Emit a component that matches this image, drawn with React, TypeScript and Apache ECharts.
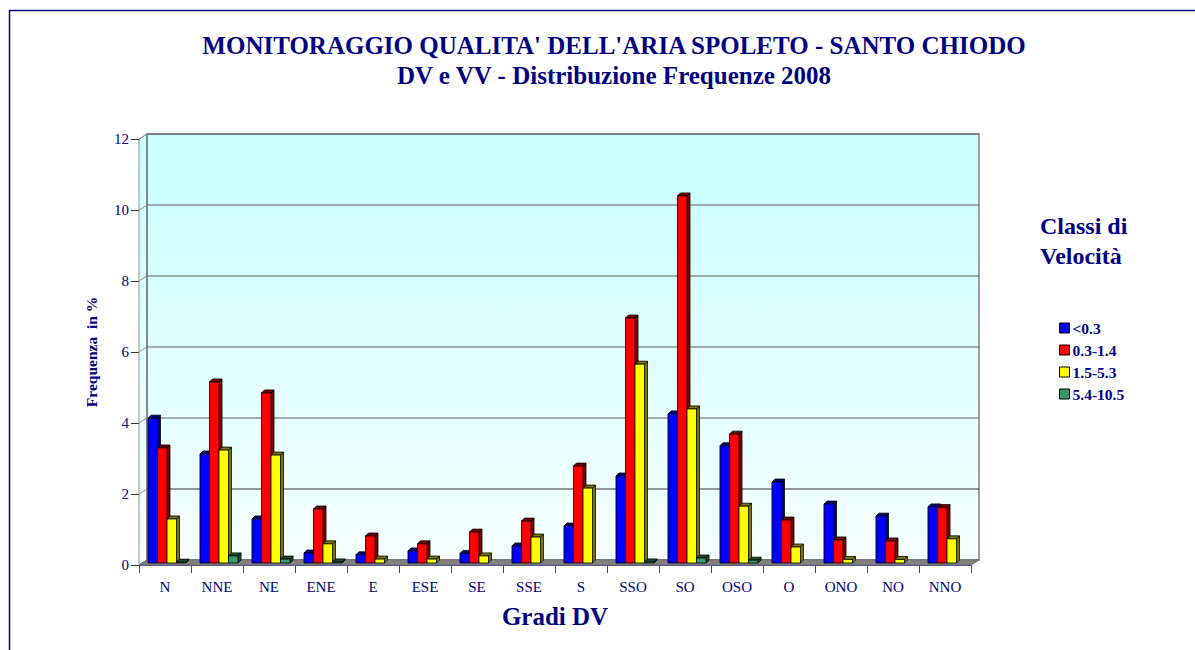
import React, { useEffect, useRef } from "react";
import * as echarts from "echarts";

const CATEGORIES = ["N", "NNE", "NE", "ENE", "E", "ESE", "SE", "SSE", "S", "SSO", "SO", "OSO", "O", "ONO", "NO", "NNO"];
const SERIES_NAMES = ["<0.3", "0.3-1.4", "1.5-5.3", "5.4-10.5"];
const V_LT03 = [4.08, 3.07, 1.24, 0.28, 0.23, 0.34, 0.27, 0.48, 1.04, 2.45, 4.2, 3.3, 2.28, 1.66, 1.32, 1.58];
const V_03_14 = [3.24, 5.1, 4.79, 1.52, 0.76, 0.54, 0.87, 1.18, 2.73, 6.9, 10.34, 3.63, 1.21, 0.65, 0.62, 1.56];
const V_15_53 = [1.24, 3.18, 3.04, 0.54, 0.11, 0.11, 0.2, 0.73, 2.11, 5.6, 4.34, 1.6, 0.45, 0.1, 0.1, 0.68];
const V_54_105 = [0.02, 0.2, 0.11, 0.03, 0, 0, 0, 0, 0, 0.03, 0.14, 0.08, 0, 0, 0, 0];
const Y_TICKS = [0, 2, 4, 6, 8, 10, 12];

const TITLE_1 = "MONITORAGGIO QUALITA' DELL'ARIA SPOLETO - SANTO CHIODO";
const TITLE_2 = "DV e VV - Distribuzione Frequenze 2008";

const COLORS = ["#0000FF", "#FF0000", "#FFFF00", "#339966"];
const DARKS = ["#00007A", "#7A0000", "#7A7A00", "#1A4D33"];
const NAVY = "#000080";
const FONT = "'Liberation Serif', 'Times New Roman', serif";

const WALL_DX = 8;
const WALL_DY = -5;

export default function App() {
  const ref = useRef<HTMLDivElement>(null);

  useEffect(() => {
    if (!ref.current) return;
    const chart = echarts.init(ref.current, undefined, { renderer: "svg" });
    const allValues = [V_LT03, V_03_14, V_15_53, V_54_105];

    const wallFill = () =>
      new echarts.graphic.LinearGradient(0, 0, 0, 1, [
        { offset: 0, color: "#C8FFFF" },
        { offset: 1, color: "#F6FFFF" },
      ]);

    const barRender = (sIdx: number) => (params: any, api: any) => {
      const cat = api.value(0);
      const v = api.value(1);
      if (!(v > 0)) return null;
      const p0 = api.coord([cat, 0]);
      const p1 = api.coord([cat, v]);
      const band = api.size([1, 0])[0];
      const w = band * 0.183;
      const x = p0[0] - 2 * w + 2 + sIdx * w;
      const yb = p0[1] - 2;
      const yt = Math.min(p1[1] - 2, yb - 0.8);
      const d = 3;
      const color = COLORS[sIdx];
      const dark = DARKS[sIdx];
      return {
        type: "group",
        children: [
          {
            type: "polygon",
            shape: { points: [[x + w, yt], [x + w + d, yt - d], [x + w + d, yb - d], [x + w, yb]] },
            style: { fill: dark, stroke: "#000", lineWidth: 0.8 },
          },
          {
            type: "polygon",
            shape: { points: [[x, yt], [x + d, yt - d], [x + w + d, yt - d], [x + w, yt]] },
            style: { fill: dark, stroke: "#000", lineWidth: 0.8 },
          },
          {
            type: "rect",
            shape: { x, y: yt, width: w, height: yb - yt },
            style: { fill: color, stroke: "#000", lineWidth: 0.8 },
          },
        ],
      };
    };

    const wallRender = (params: any, api: any) => {
      const cs = params.coordSys;
      const left = cs.x;
      const right = cs.x + cs.width;
      const bottom = api.coord([0, 0])[1];
      const top = api.coord([0, Y_TICKS[Y_TICKS.length - 1]])[1];
      const children: any[] = [];
      children.push({
        type: "polygon",
        shape: {
          points: [
            [left, top],
            [left + WALL_DX, top + WALL_DY],
            [left + WALL_DX, bottom + WALL_DY],
            [left, bottom],
          ],
        },
        style: { fill: wallFill(), stroke: "#909090", lineWidth: 1 },
      });
      children.push({
        type: "rect",
        shape: { x: left + WALL_DX, y: top + WALL_DY, width: right - left, height: bottom - top },
        style: { fill: wallFill(), stroke: "#808080", lineWidth: 1.5 },
      });
      Y_TICKS.forEach((t) => {
        const y = api.coord([0, t])[1];
        children.push({
          type: "line",
          shape: { x1: left + WALL_DX, y1: y + WALL_DY, x2: right + WALL_DX, y2: y + WALL_DY },
          style: { stroke: t === 2 ? "#333" : "#606060", lineWidth: 1.2 },
        });
        children.push({
          type: "line",
          shape: { x1: left, y1: y, x2: left + WALL_DX, y2: y + WALL_DY },
          style: { stroke: "#909090", lineWidth: 1 },
        });
      });
      children.push({
        type: "line",
        shape: { x1: left + WALL_DX, y1: top + WALL_DY, x2: left + WALL_DX, y2: bottom + WALL_DY },
        style: { stroke: "#808080", lineWidth: 1.5 },
      });
      children.push({
        type: "polygon",
        shape: {
          points: [
            [left, bottom],
            [left + WALL_DX, bottom + WALL_DY],
            [right + WALL_DX, bottom + WALL_DY],
            [right, bottom],
          ],
        },
        style: { fill: "#808080", stroke: "#707070", lineWidth: 1 },
      });
      return { type: "group", children };
    };

    const option: any = {
      animation: false,
      backgroundColor: "#FFFFFF",
      textStyle: { fontFamily: FONT },
      graphic: [
        {
          type: "rect",
          shape: { x: 9.5, y: 10.5, width: 1300, height: 800 },
          style: { fill: "none", stroke: NAVY, lineWidth: 1.5 },
          silent: true,
          z: -10,
        },
        {
          type: "text",
          x: 614,
          y: 45,
          style: {
            text: TITLE_1,
            textAlign: "center",
            textVerticalAlign: "middle",
            font: `bold 25px ${FONT}`,
            fill: NAVY,
          },
        },
        {
          type: "text",
          x: 614,
          y: 75,
          style: {
            text: TITLE_2,
            textAlign: "center",
            textVerticalAlign: "middle",
            font: `bold 25px ${FONT}`,
            fill: NAVY,
          },
        },
        {
          type: "text",
          x: 1040,
          y: 226,
          style: {
            text: "Classi di",
            textAlign: "left",
            textVerticalAlign: "middle",
            font: `bold 24px ${FONT}`,
            fill: NAVY,
          },
        },
        {
          type: "text",
          x: 1040,
          y: 256,
          style: {
            text: "Velocità",
            textAlign: "left",
            textVerticalAlign: "middle",
            font: `bold 24px ${FONT}`,
            fill: NAVY,
          },
        },
      ],
      legend: {
        orient: "vertical",
        left: 1059,
        top: 320,
        padding: 0,
        itemWidth: 10,
        itemHeight: 10,
        itemGap: 6,
        icon: "rect",
        data: SERIES_NAMES.map((n, i) => ({
          name: n,
          itemStyle: { color: COLORS[i], borderColor: "#000", borderWidth: 1 },
        })),
        textStyle: { fontFamily: FONT, fontWeight: "bold", fontSize: 15.5, lineHeight: 15, color: NAVY, padding: [0, 0, 0, -2] },
        selectedMode: false,
      },
      grid: { left: 139, right: 224, top: 139, bottom: 85, containLabel: false },
      xAxis: {
        type: "category",
        data: CATEGORIES,
        name: "Gradi DV",
        nameLocation: "middle",
        nameGap: 39,
        nameTextStyle: { fontFamily: FONT, fontWeight: "bold", fontSize: 25, color: NAVY },
        axisLine: { show: true, lineStyle: { color: "#4040A8", width: 1 } },
        axisTick: { show: true, length: 8, lineStyle: { color: "#4040A8" } },
        axisLabel: { fontFamily: FONT, fontSize: 15, color: NAVY, margin: 14 },
        splitLine: { show: false },
      },
      yAxis: {
        type: "value",
        min: 0,
        max: 12,
        interval: 2,
        name: "Frequenza  in %",
        nameLocation: "middle",
        nameGap: 40,
        nameTextStyle: { fontFamily: FONT, fontWeight: "bold", fontSize: 15.5, color: NAVY },
        axisLine: { show: true, lineStyle: { color: "#333333", width: 1 } },
        axisTick: { show: true, length: 8, lineStyle: { color: "#333333" } },
        axisLabel: { fontFamily: FONT, fontSize: 15, color: NAVY, margin: 10 },
        splitLine: { show: false },
      },
      series: [
        {
          type: "custom",
          name: "wall",
          silent: true,
          z: 1,
          renderItem: wallRender,
          data: [[0, 0]],
          clip: false,
        },
        ...SERIES_NAMES.map((n, i) => ({
          type: "custom",
          name: n,
          z: 3,
          itemStyle: { color: COLORS[i], borderColor: "#000", borderWidth: 1 },
          renderItem: barRender(i),
          encode: { x: 0, y: 1 },
          data: allValues[i].map((v, k) => [k, v]),
          clip: false,
        })),
      ],
    };

    chart.setOption(option);
    return () => chart.dispose();
  }, []);

  return (
    <div
      ref={ref}
      style={{ position: "absolute", left: 0, top: 0, width: 1195, height: 650, background: "#fff" }}
    />
  );
}
